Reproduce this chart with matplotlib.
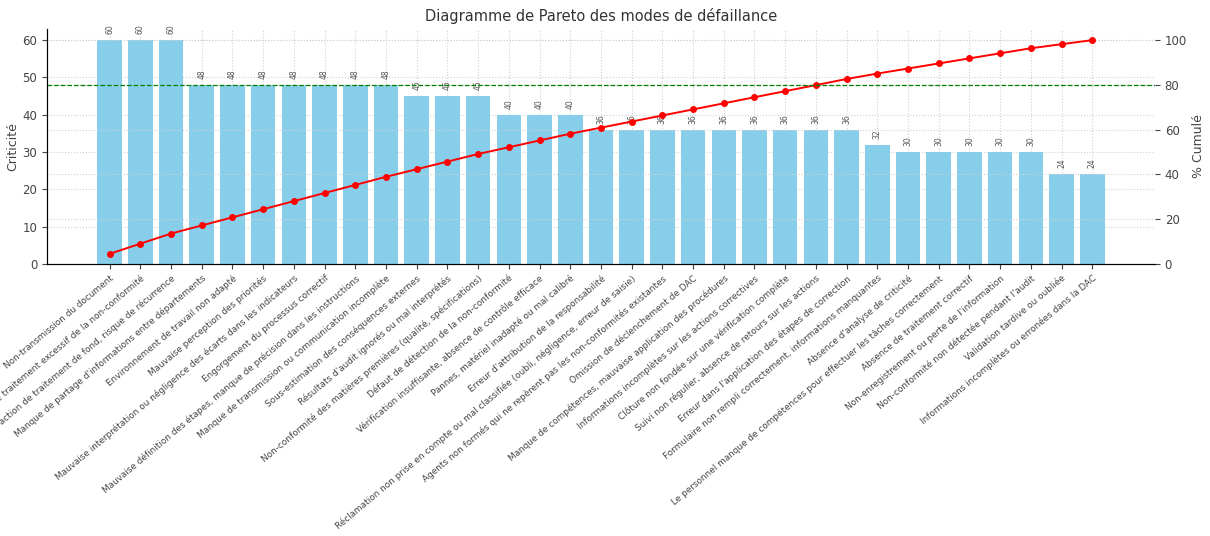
import numpy as np
import matplotlib
matplotlib.use('Agg')
import matplotlib.pyplot as plt

# Modes de défaillance et criticité (triés)
modes = [
    "Non-transmission du document",
    "Délai de traitement excessif de la non-conformité",
    "Absence d'action de traitement de fond, risque de récurrence",
    "Manque de partage d'informations entre départements",
    "Environnement de travail non adapté",
    "Mauvaise perception des priorités",
    "Mauvaise interprétation ou négligence des écarts dans les indicateurs",
    "Engorgement du processus correctif",
    "Mauvaise définition des étapes, manque de précision dans les instructions",
    "Manque de transmission ou communication incomplète",
    "Sous-estimation des conséquences externes",
    "Résultats d'audit ignorés ou mal interprétés",
    "Non-conformité des matières premières (qualité, spécifications)",
    "Défaut de détection de la non-conformité",
    "Vérification insuffisante, absence de contrôle efficace",
    "Pannes, matériel inadapté ou mal calibré",
    "Erreur d'attribution de la responsabilité",
    "Réclamation non prise en compte ou mal classifiée (oubli, négligence, erreur de saisie)",
    "Agents non formés qui ne repèrent pas les non-conformités existantes",
    "Omission de déclenchement de DAC",
    "Manque de compétences, mauvaise application des procédures",
    "Informations incomplètes sur les actions correctives",
    "Clôture non fondée sur une vérification complète",
    "Suivi non régulier, absence de retours sur les actions",
    "Erreur dans l'application des étapes de correction",
    "Formulaire non rempli correctement, informations manquantes",
    "Absence d'analyse de criticité",
    "Le personnel manque de compétences pour effectuer les tâches correctement",
    "Absence de traitement correctif",
    "Non-enregistrement ou perte de l'information",
    "Non-conformité non détectée pendant l'audit",
    "Validation tardive ou oubliée",
    "Informations incomplètes ou erronées dans la DAC",
]
criticite = [60, 60, 60, 48, 48, 48, 48, 48, 48, 48, 45, 45, 45, 40, 40, 40,
             36, 36, 36, 36, 36, 36, 36, 36, 36, 32, 30, 30, 30, 30, 30, 24, 24]
seuil = 80

crit = np.array(criticite)
cumul = np.cumsum(crit) / crit.sum() * 100
x = np.arange(len(modes))

txt = '#444444'
plt.rcParams['font.family'] = 'DejaVu Sans'
plt.rcParams['text.color'] = txt
plt.rcParams['axes.labelcolor'] = txt
plt.rcParams['xtick.color'] = txt
plt.rcParams['ytick.color'] = txt

fig, ax1 = plt.subplots(figsize=(12.1, 5.36), dpi=100)
fig.subplots_adjust(left=0.0388, right=0.9545, top=0.946, bottom=0.5075)

ax1.bar(x, crit, color='skyblue', width=0.8, zorder=2)
for xi, v in zip(x, crit):
    ax1.text(xi, v + 1.6, str(v), rotation=90, ha='center', va='bottom',
             fontsize=5.5, color='#555555')
ax1.set_ylabel('Criticité', fontsize=9, labelpad=2)
ax1.set_xticks(x)
ax1.set_xticklabels(modes, rotation=40, ha='right', rotation_mode='anchor',
                    fontsize=6.4)
ax1.tick_params(axis='y', labelsize=8.5)
ax1.set_ylim(0, 63)
ax1.grid(True, linestyle=':', color='#d0d0d0', linewidth=0.8, zorder=0)
ax1.set_axisbelow(True)

ax2 = ax1.twinx()
ax2.plot(x, cumul, color='red', marker='o', markersize=4, linewidth=1.4)
ax2.axhline(seuil, color='green', linestyle='--', linewidth=0.9)
ax2.set_ylabel('% Cumulé', fontsize=9)
ax2.set_ylim(0, 105)
ax2.tick_params(axis='y', labelsize=8.5)
ax2.grid(True, axis='y', linestyle=':', color='#d0d0d0', linewidth=0.8)

for a in (ax1, ax2):
    a.spines['top'].set_visible(False)
    a.spines['right'].set_visible(False)
ax1.spines['left'].set_color('#333333')
ax1.spines['bottom'].set_color('#333333')

ax1.set_title('Diagramme de Pareto des modes de défaillance', fontsize=10.5,
              color='#333333')

plt.savefig('out.png', dpi=100)
